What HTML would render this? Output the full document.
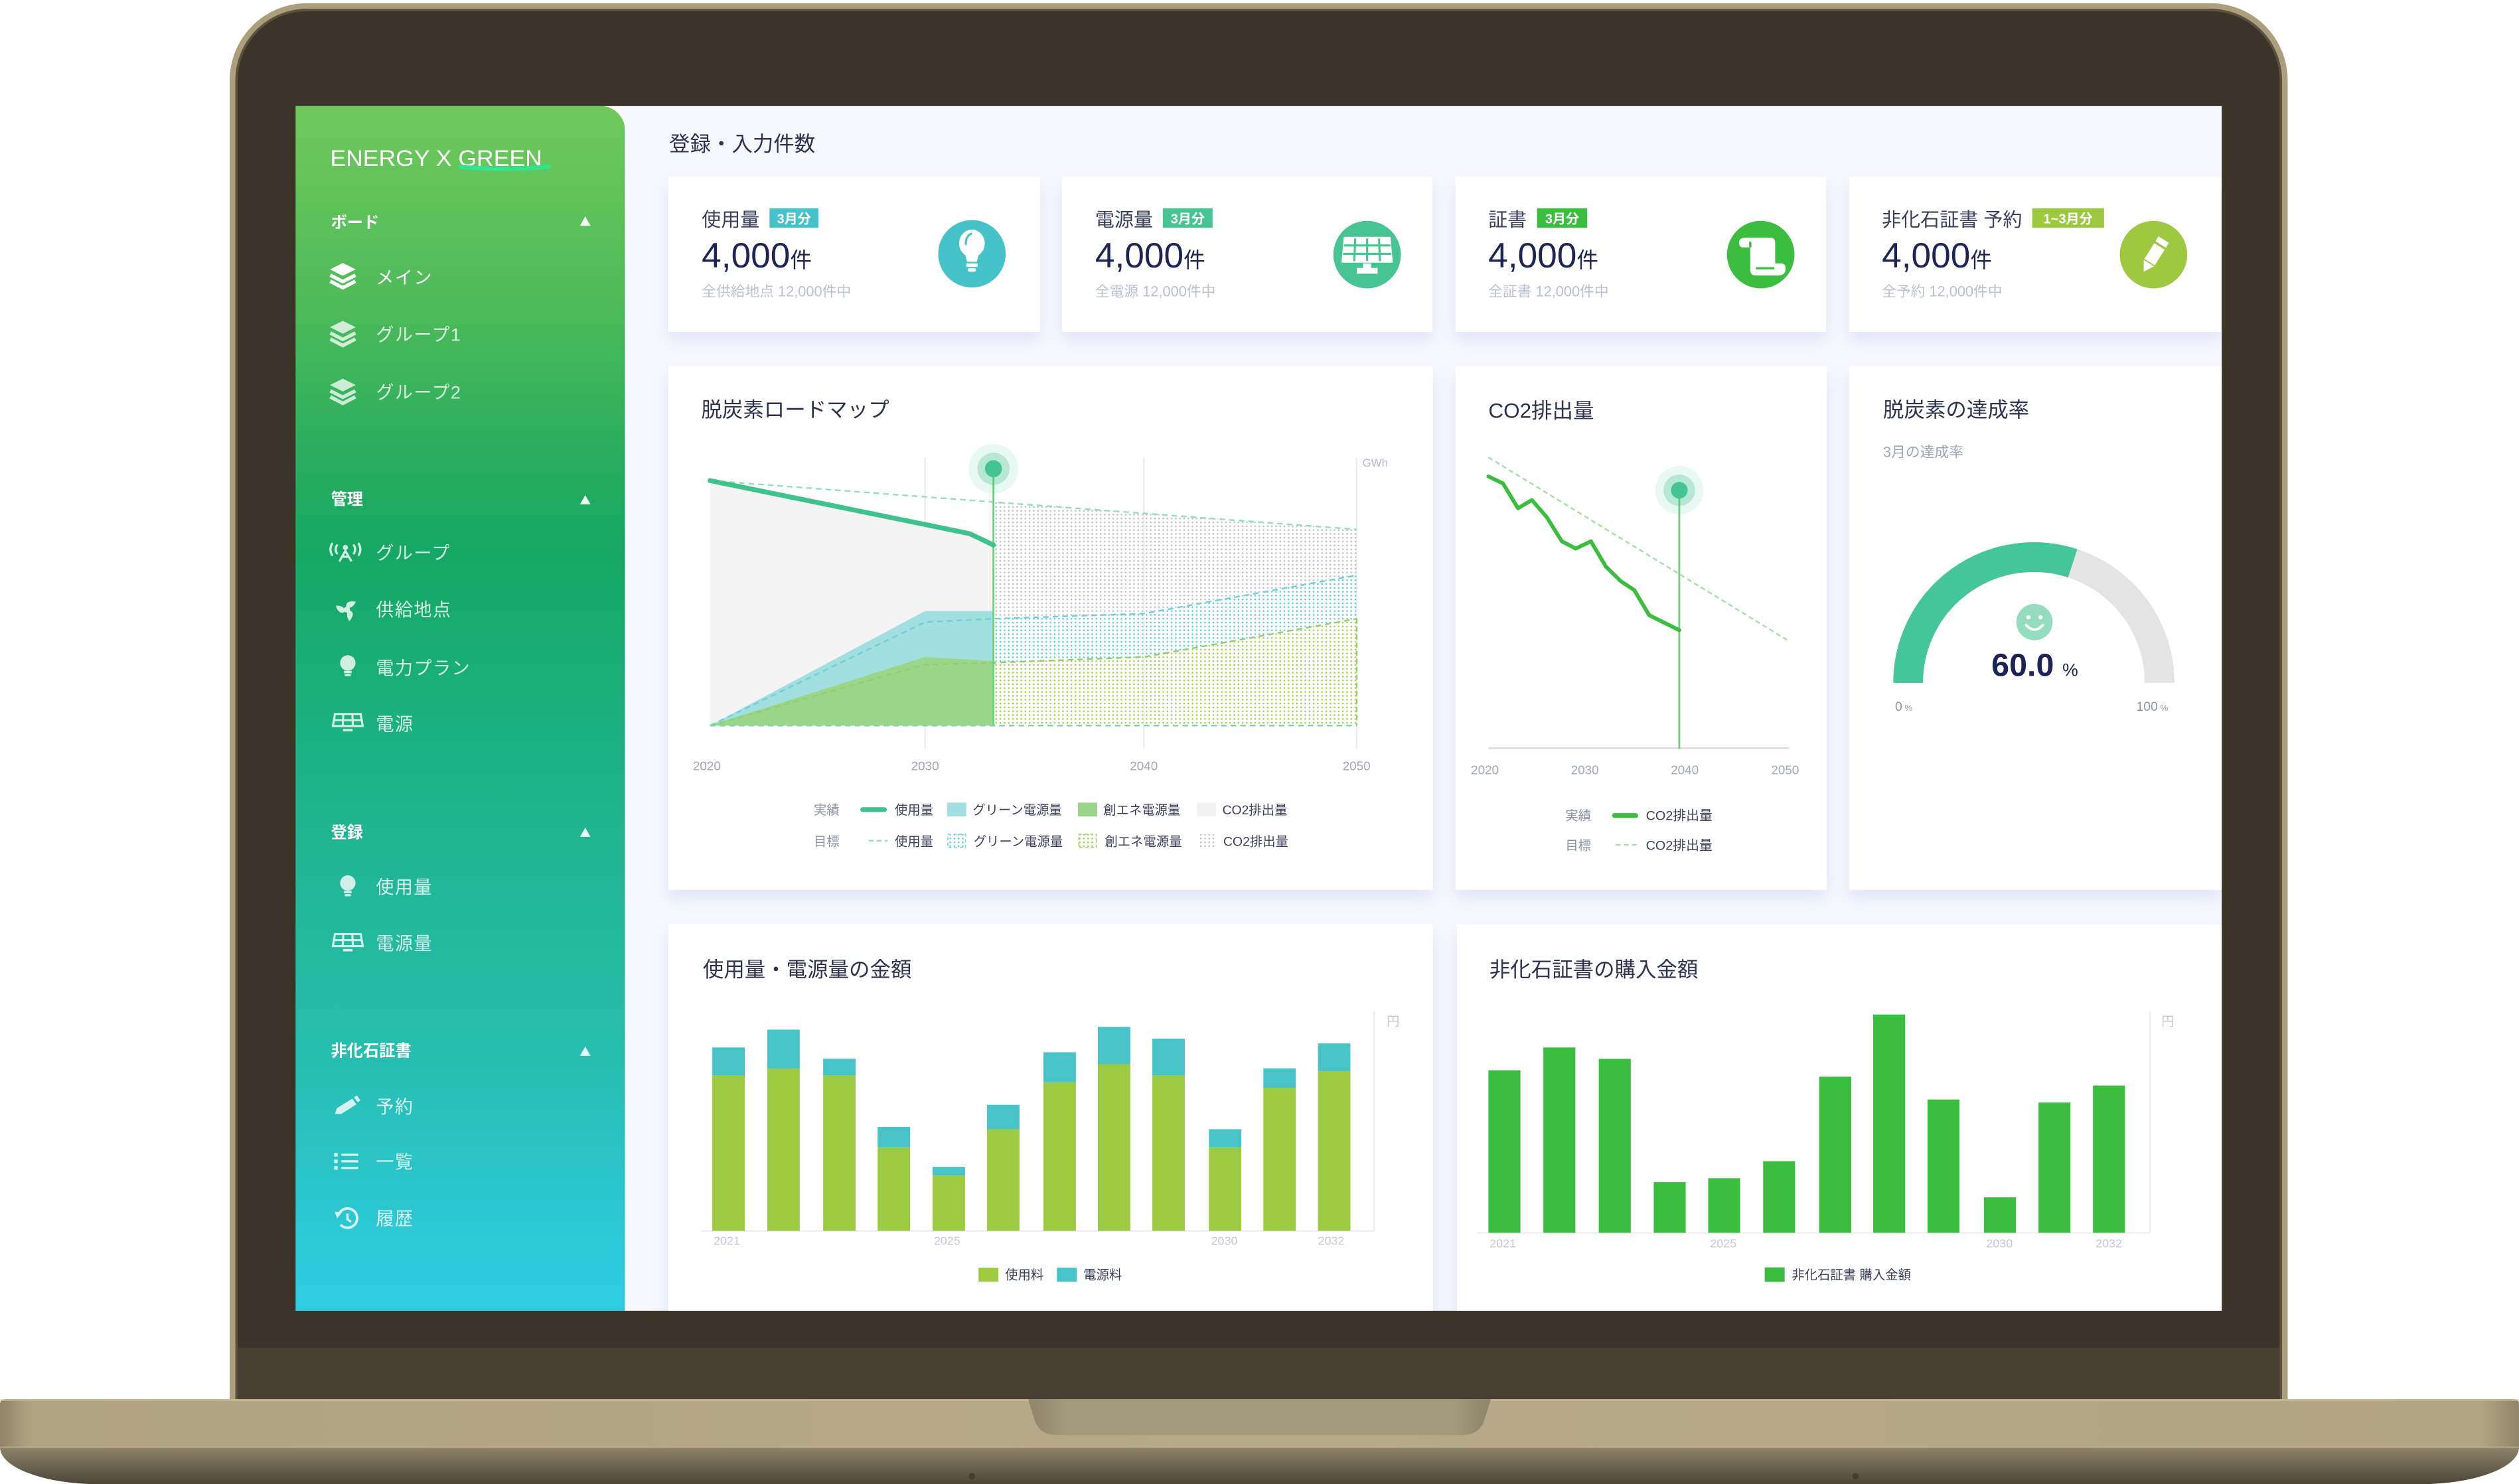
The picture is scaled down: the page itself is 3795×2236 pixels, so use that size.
<!DOCTYPE html>
<html><head><meta charset="utf-8">
<style>
html,body{margin:0;padding:0;background:#fff;}
body{width:3795px;height:2236px;overflow:hidden;}
svg{display:block;}
text{font-family:"Liberation Sans","Noto Sans CJK JP",sans-serif;}
</style></head><body>
<svg width="3795" height="2236" viewBox="0 0 1568 923.86" xmlns="http://www.w3.org/2000/svg">
<defs>
 <linearGradient id="sb" x1="0" y1="0" x2="0" y2="1">
  <stop offset="0" stop-color="#6fc95b"/>
  <stop offset="0.16" stop-color="#4fbb5a"/>
  <stop offset="0.30" stop-color="#26ac5e"/>
  <stop offset="0.37" stop-color="#15a864"/>
  <stop offset="0.56" stop-color="#1db388"/>
  <stop offset="0.76" stop-color="#26bca9"/>
  <stop offset="1" stop-color="#2ecde5"/>
 </linearGradient>
 <linearGradient id="baseTop" x1="0" y1="0" x2="1" y2="0">
  <stop offset="0" stop-color="#8f8567"/>
  <stop offset="0.012" stop-color="#afa481"/>
  <stop offset="0.5" stop-color="#b6aa88"/>
  <stop offset="0.985" stop-color="#b1a683"/>
  <stop offset="1" stop-color="#8f8567"/>
 </linearGradient>
 <linearGradient id="baseBot" x1="0" y1="0" x2="0" y2="1">
  <stop offset="0" stop-color="#8e846b"/>
  <stop offset="1" stop-color="#4c4636"/>
 </linearGradient>
 <linearGradient id="notch" x1="0" y1="0" x2="1" y2="0">
  <stop offset="0" stop-color="#8d846a"/>
  <stop offset="0.08" stop-color="#a39a7b"/>
  <stop offset="0.92" stop-color="#a39a7b"/>
  <stop offset="1" stop-color="#8d846a"/>
 </linearGradient>
 <pattern id="dg" width="2.6" height="2.4" patternUnits="userSpaceOnUse"><circle cx="1.3" cy="1.2" r="0.55" fill="#bfc0c6"/></pattern>
 <pattern id="dt" width="2.6" height="2.4" patternUnits="userSpaceOnUse"><circle cx="1.3" cy="1.2" r="0.55" fill="#5ccad7"/></pattern>
 <pattern id="dl" width="2.6" height="2.4" patternUnits="userSpaceOnUse"><circle cx="1.3" cy="1.2" r="0.55" fill="#a4cf48"/></pattern>
 <filter id="sh" x="-10%" y="-10%" width="120%" height="135%"><feDropShadow dx="0" dy="5" stdDeviation="5" flood-color="#d6dcf5" flood-opacity="0.75"/></filter>
 <clipPath id="scr"><rect x="184" y="66" width="1199" height="750"/></clipPath>

 <g id="il"><polygon points="-8,-3.8 0,-7.8 8,-3.8 0,0.2" fill="#fff"/><polyline points="-7.8,-0.2 0,3.8 7.8,-0.2" fill="none" stroke="#fff" stroke-width="2.2"/><polyline points="-7.8,3.6 0,7.6 7.8,3.6" fill="none" stroke="#fff" stroke-width="2.2"/></g>
 <g id="ig" fill="none" stroke="#fff" stroke-width="1.4" stroke-linecap="round"><path d="M-5.3,-4.5 Q-6.8,-2 -5.3,0.5"/><path d="M-8.3,-5.5 Q-10.3,-2 -8.3,1.5"/><path d="M5.3,-4.5 Q6.8,-2 5.3,0.5"/><path d="M8.3,-5.5 Q10.3,-2 8.3,1.5"/><path d="M-3.5,5 L0,-1 L3.5,5 M-2,2.6 H2"/><circle cx="0" cy="-3.2" r="1.6" fill="#fff" stroke="none"/></g>
 <g id="if" fill="#fff"><circle r="1.9"/><path d="M0,-1 C-1.5,-3.5 0.5,-6 5.5,-4.8 C4.5,-2.5 2.5,-0.8 0,-1Z"/><path d="M0,-1 C-1.5,-3.5 0.5,-6 5.5,-4.8 C4.5,-2.5 2.5,-0.8 0,-1Z" transform="rotate(120)"/><path d="M0,-1 C-1.5,-3.5 0.5,-6 5.5,-4.8 C4.5,-2.5 2.5,-0.8 0,-1Z" transform="rotate(240)"/></g>
 <g id="ib" fill="#fff"><circle cx="0" cy="-1.8" r="4.8"/><rect x="-2.4" y="3.1" width="4.8" height="1.5"/><rect x="-1.9" y="5.1" width="3.8" height="1.4" rx="0.6"/></g>
 <g id="is"><path d="M-8,-5 H8 L9.3,2.5 H-9.3 Z M-8.6,-1.2 H8.6 M-2.8,-5 L-3.2,2.5 M2.8,-5 L3.2,2.5" fill="none" stroke="#fff" stroke-width="1.3"/><rect x="-3" y="4.3" width="6" height="1.5" fill="#fff"/></g>
 <g id="ip" fill="#fff"><path d="M-7.5,5 L-6.3,1.4 L3.3,-4.6 L5.8,-1 L-3.6,5 Z"/><path d="M4.3,-5.4 L6.2,-6.5 L8.3,-3.5 L6.7,-2.2 Z"/></g>
 <g id="it"><rect x="-7.5" y="-5.2" width="2.2" height="2.2" fill="#fff"/><rect x="-7.5" y="-1.1" width="2.2" height="2.2" fill="#fff"/><rect x="-7.5" y="3" width="2.2" height="2.2" fill="#fff"/><path d="M-3,-4.1 H7.5 M-3,0 H7.5 M-3,4.1 H7.5" stroke="#fff" stroke-width="1.4"/></g>
 <g id="ih"><path d="M-5.2,-2.5 A6,6 0 1 1 -4,4" fill="none" stroke="#fff" stroke-width="1.6"/><polygon points="-7.6,-4.2 -3.2,-3.6 -6.2,0" fill="#fff"/><path d="M0.3,-3 V0.6 L2.6,2.2" fill="none" stroke="#fff" stroke-width="1.4"/></g>
</defs>

<!-- Laptop lid -->
<path d="M143,872 V50 A48,48 0 0 1 191,2 H1376 A48,48 0 0 1 1424,50 V872 Z" fill="#ab9f7c"/>
<path d="M146.5,872 V50 A44.5,44.5 0 0 1 191,5.5 H1376 A44.5,44.5 0 0 1 1420.5,50 V872 Z" fill="#5b5141"/>
<path d="M148,872 V50 A43,43 0 0 1 191,7 H1376 A43,43 0 0 1 1419,50 V872 Z" fill="#3c3428"/>
<rect x="148" y="839" width="1271" height="33" fill="#473f32"/>

<!-- Laptop base -->
<path d="M0,874 Q0,871 4,871 H1564 Q1568,871 1568,874 V901 H0 Z" fill="url(#baseTop)"/>
<rect x="0" y="871" width="1568" height="1.2" fill="#cfc4a2" opacity="0.6"/>
<path d="M0,901 H1568 A62,23 0 0 1 1506,924 H62 A62,23 0 0 1 0,901 Z" fill="url(#baseBot)"/>
<rect x="0" y="900.5" width="1568" height="1" fill="#c3b892" opacity="0.5"/>
<path d="M640,871 H928 L924,884 Q921,893.4 910,893.4 H658 Q647,893.4 644,884 Z" fill="url(#notch)"/>
<circle cx="605" cy="919" r="2" fill="#36312a" opacity="0.6"/>
<circle cx="1155" cy="919" r="2" fill="#36312a" opacity="0.6"/>

<!-- Screen -->
<g clip-path="url(#scr)">
<rect x="184" y="66" width="1199" height="750" fill="#f7f8fd"/>

<!-- Sidebar -->
<path d="M184,66 H374 A15,15 0 0 1 389,81 V816 H184 Z" fill="url(#sb)"/>
<text x="205.5" y="103.3" font-size="14" fill="#fff" textLength="132" lengthAdjust="spacingAndGlyphs">ENERGY X GREEN</text>
<path d="M286.5,103.8 Q314,106.5 342,103.6" fill="none" stroke="#2fe68f" stroke-width="2.6" stroke-linecap="round"/>

<g font-size="10" font-weight="bold" fill="#fff">
<text x="206" y="142">ボード</text>
<text x="206" y="314.2">管理</text>
<text x="206" y="521.7">登録</text>
<text x="206" y="657.5">非化石証書</text>
</g>
<g fill="#fff" opacity="0.9">
<polygon points="361,140.6 367.6,140.6 364.3,134.6"/>
<polygon points="361,314 367.6,314 364.3,308.2"/>
<polygon points="361,521 367.6,521 364.3,515.3"/>
<polygon points="361,657.3 367.6,657.3 364.3,651.6"/>
</g>

<g font-size="11.2" letter-spacing="0.6">
<text x="234" y="176.7" fill="#fff">メイン</text>
<g fill="#fff" fill-opacity="0.82">
<text x="234" y="212.2">グループ1</text>
<text x="234" y="248.2">グループ2</text>
<text x="234" y="348.2">グループ</text>
<text x="234" y="383.4">供給地点</text>
<text x="234" y="419.8">電力プラン</text>
<text x="234" y="454.7">電源</text>
<text x="234" y="556.2">使用量</text>
<text x="234" y="591.2">電源量</text>
<text x="234" y="693">予約</text>
<text x="234" y="727.2">一覧</text>
<text x="234" y="762.6">履歴</text>
</g>
</g>
<use href="#il" x="213.4" y="171.5"/>
<use href="#il" x="213.4" y="207.5" opacity="0.75"/>
<use href="#il" x="213.4" y="243.5" opacity="0.75"/>
<use href="#ig" x="215" y="344" opacity="0.8"/>
<use href="#if" x="216" y="379.5" opacity="0.8"/>
<use href="#ib" x="216.5" y="414.5" opacity="0.8"/>
<use href="#is" x="216.5" y="449.5" opacity="0.8"/>
<use href="#ib" x="216.5" y="551.5" opacity="0.8"/>
<use href="#is" x="216.5" y="586.5" opacity="0.8"/>
<use href="#ip" x="216" y="688.5" opacity="0.8"/>
<use href="#it" x="215.5" y="723" opacity="0.8"/>
<use href="#ih" x="216" y="758.5" opacity="0.8"/>

<!-- Main title -->
<text x="416.5" y="94" font-size="13" fill="#2d3250">登録・入力件数</text>

<!-- KPI cards -->
<g filter="url(#sh)" fill="#fff">
<rect x="416" y="110" width="231.5" height="96.6"/>
<rect x="661" y="110" width="230.5" height="96.6"/>
<rect x="906" y="110" width="230.7" height="96.6"/>
<rect x="1151" y="110" width="231.5" height="96.6"/>
</g>
<g font-size="12" fill="#3a3f5e">
<text x="436.8" y="141">使用量</text>
<text x="681.7" y="141">電源量</text>
<text x="926.4" y="141">証書</text>
<text x="1171.4" y="141">非化石証書 予約</text>
</g>
<rect x="479" y="129.7" width="30.5" height="12.1" fill="#45c3c9"/>
<rect x="723.8" y="129.7" width="31" height="12.1" fill="#46c494"/>
<rect x="956.8" y="129.7" width="31.2" height="12.1" fill="#3bbd3f"/>
<rect x="1265" y="129.7" width="44.7" height="12.1" fill="#9dc940"/>
<g font-size="8.3" fill="#fff" text-anchor="middle" font-weight="bold">
<text x="494.2" y="139">3月分</text>
<text x="739.3" y="139">3月分</text>
<text x="972.4" y="139">3月分</text>
<text x="1287.3" y="139">1~3月分</text>
</g>
<g fill="#1e2456">
<text x="436.8" y="166.5" font-size="22">4,000<tspan font-size="13.5">件</tspan></text>
<text x="681.7" y="166.5" font-size="22">4,000<tspan font-size="13.5">件</tspan></text>
<text x="926.4" y="166.5" font-size="22">4,000<tspan font-size="13.5">件</tspan></text>
<text x="1171.4" y="166.5" font-size="22">4,000<tspan font-size="13.5">件</tspan></text>
</g>
<g font-size="9" fill="#bcc0ce">
<text x="436.8" y="184.5">全供給地点 12,000件中</text>
<text x="681.7" y="184.5">全電源 12,000件中</text>
<text x="926.4" y="184.5">全証書 12,000件中</text>
<text x="1171.4" y="184.5">全予約 12,000件中</text>
</g>
<circle cx="605" cy="158" r="21" fill="#45c3c9"/>
<circle cx="851" cy="158.5" r="21" fill="#46c494"/>
<circle cx="1096" cy="158.5" r="21" fill="#3bbd3f"/>
<circle cx="1340.5" cy="158.5" r="21" fill="#9dc940"/>
<!-- bulb icon -->
<g fill="#fff">
<ellipse cx="605" cy="151.5" rx="8" ry="8.6"/>
<polygon points="600.3,157 609.7,157 608,163 602,163"/>
<rect x="601.5" y="164" width="7" height="2.2"/>
<rect x="602.5" y="167" width="5" height="2.2" rx="1"/>
</g>
<path d="M601.2,152 Q601.2,147 604.5,145.5" fill="none" stroke="#45c3c9" stroke-width="1.3" stroke-linecap="round"/>
<!-- solar icon -->
<polygon points="836.5,147.4 865.5,147.4 867,163.5 835,163.5" fill="#fff"/>
<path d="M843.6,148.5 L843,162.5 M851,148.5 V162.5 M858.4,148.5 L859,162.5 M836.5,152.8 H865.5 M836,158 H866" stroke="#46c494" stroke-width="1.3"/>
<rect x="848.5" y="164" width="5" height="3" fill="#fff"/>
<rect x="844.5" y="166.8" width="13" height="3.6" fill="#fff"/>
<!-- scroll icon -->
<g fill="#fff">
<path d="M1086.5,148 H1102 Q1105,148 1105,151 V164 H1108.5 Q1111.5,164 1111.5,167 Q1111.5,171.5 1107,171.5 H1093 Q1089.5,171.5 1089.5,168 V154 H1085 Q1082.5,154 1082.5,151 Q1082.5,148 1086.5,148 Z"/>
</g>
<path d="M1089.5,154 V150.5 M1093,167 H1104.5" stroke="#3bbd3f" stroke-width="1.4" fill="none"/>
<!-- pencil icon -->
<g transform="translate(1341,158.5) rotate(32)" fill="#fff">
<rect x="-3.8" y="-6" width="7.6" height="11.5"/>
<polygon points="-3.8,6.3 3.8,6.3 0,12.5"/>
<rect x="-3.8" y="-11" width="7.6" height="3.6"/>
</g>

<!-- Row 2 cards -->
<g filter="url(#sh)" fill="#fff">
<rect x="416" y="228" width="476" height="326"/>
<rect x="906" y="228" width="231" height="326"/>
<rect x="1151" y="228" width="232" height="326"/>
</g>
<g font-size="13" fill="#2d3250">
<text x="436.5" y="259.5">脱炭素ロードマップ</text>
<text x="926.5" y="260">CO2排出量</text>
<text x="1172.2" y="259.5">脱炭素の達成率</text>
</g>

<!-- Roadmap chart -->
<g stroke="#e6e7eb" stroke-width="0.7">
<line x1="575.8" y1="284.7" x2="575.8" y2="466"/>
<line x1="712" y1="284.7" x2="712" y2="466"/>
<line x1="844.4" y1="284.7" x2="844.4" y2="466"/>
</g>
<text x="856" y="290.5" font-size="7" fill="#b5b8c6" text-anchor="middle">GWh</text>
<polygon points="442,299.2 603.5,332.2 618.4,339.3 618.4,451.7 442,451.7" fill="#f4f4f5"/>
<polygon points="442,451.7 575.8,380.4 618.4,380.4 618.4,451.7" fill="#a2dfe0"/>
<polygon points="442,451.7 575.8,409 618.4,411.5 618.4,451.7" fill="#9bd58a"/>
<polygon points="618.4,312.4 844.5,329.6 844.5,358.1 712,382 618.4,385.2" fill="url(#dg)"/>
<polygon points="618.4,385.2 712,382 844.5,358.1 844.5,385.2 712,409 618.4,412.6" fill="url(#dt)"/>
<polygon points="618.4,412.6 712,409 844.5,385.2 844.5,451.7 618.4,451.7" fill="url(#dl)"/>
<polyline points="442,299.2 844.5,329.6" fill="none" stroke="#8fe0bd" stroke-width="1" stroke-dasharray="3.5,2.5"/>
<polyline points="442,451.7 575.8,387.3 618.4,385.2 712,382 844.5,358.1" fill="none" stroke="#6fd0dd" stroke-width="1" stroke-dasharray="3.5,2.5"/>
<polyline points="442,451.7 575.8,413.7 618.4,412.6 712,409 844.5,385.2" fill="none" stroke="#8fd06d" stroke-width="1" stroke-dasharray="3.5,2.5"/>
<line x1="844.5" y1="385.2" x2="844.5" y2="451.7" stroke="#8fd06d" stroke-width="1" stroke-dasharray="3,2"/>
<line x1="442" y1="451.7" x2="844.5" y2="451.7" stroke="#7ad8a8" stroke-width="1" stroke-dasharray="3.5,2.5"/>
<line x1="618.4" y1="291.8" x2="618.4" y2="451.7" stroke="#6dd07c" stroke-width="1.2"/>
<polyline points="442,299.2 603.5,332.2 618.4,339.3" fill="none" stroke="#3fc28b" stroke-width="3" stroke-linecap="round" stroke-linejoin="round"/>
<circle cx="618.4" cy="291.8" r="15.5" fill="#45c493" opacity="0.12"/>
<circle cx="618.4" cy="291.8" r="10" fill="#45c493" opacity="0.3"/>
<circle cx="618.4" cy="291.8" r="5.3" fill="#45c493"/>
<g font-size="7.8" fill="#a3a7ba" text-anchor="middle">
<text x="440" y="479.5">2020</text>
<text x="575.8" y="479.5">2030</text>
<text x="712" y="479.5">2040</text>
<text x="844.4" y="479.5">2050</text>
</g>
<!-- Roadmap legend -->
<g font-size="8" fill="#8c91a6">
<text x="506.5" y="507">実績</text>
<text x="506.5" y="526.5">目標</text>
</g>
<line x1="537" y1="504" x2="550.5" y2="504" stroke="#3fc28b" stroke-width="3" stroke-linecap="round"/>
<rect x="589.5" y="499.7" width="12" height="8.6" fill="#a2dfe0"/>
<rect x="671" y="499.7" width="12" height="8.6" fill="#9bd58a"/>
<rect x="745" y="499.7" width="12" height="8.6" fill="#f2f2f3"/>
<line x1="540.7" y1="523.4" x2="552.5" y2="523.4" stroke="#8fe0bd" stroke-width="1" stroke-dasharray="3,2"/>
<rect x="590" y="519.3" width="11" height="8.4" fill="url(#dt)" stroke="#7fd6e0" stroke-width="0.7" stroke-dasharray="2,1.5"/>
<rect x="671.5" y="519.3" width="11" height="8.4" fill="url(#dl)" stroke="#a9dc7e" stroke-width="0.7" stroke-dasharray="2,1.5"/>
<rect x="745.5" y="519.3" width="11" height="8.4" fill="url(#dg)"/>
<g font-size="8" fill="#3b3f5c">
<text x="556.9" y="507">使用量</text>
<text x="605.4" y="507">グリーン電源量</text>
<text x="686.8" y="507">創エネ電源量</text>
<text x="760.9" y="507">CO2排出量</text>
<text x="556.9" y="526.5">使用量</text>
<text x="606" y="526.5">グリーン電源量</text>
<text x="687.7" y="526.5">創エネ電源量</text>
<text x="761.5" y="526.5">CO2排出量</text>
</g>

<!-- CO2 chart -->
<line x1="926.5" y1="465.8" x2="1113.7" y2="465.8" stroke="#dcdcdf" stroke-width="1"/>
<line x1="926.5" y1="284.7" x2="1113.7" y2="399.2" stroke="#9fe39f" stroke-width="1" stroke-dasharray="3,2"/>
<line x1="1045.3" y1="305.2" x2="1045.3" y2="466.2" stroke="#6fd07c" stroke-width="1.2"/>
<polyline points="926.5,296.6 935.5,300.9 944.9,316.4 953.6,311.3 962.9,322.1 972.2,337 980.9,341.5 990.3,337 999.6,352.7 1008.9,361.8 1017.3,367.4 1026.6,383 1045.3,392.3" fill="none" stroke="#3bbd3f" stroke-width="2.4" stroke-linejoin="round" stroke-linecap="round"/>
<circle cx="1045.3" cy="305.2" r="15" fill="#45c493" opacity="0.12"/>
<circle cx="1045.3" cy="305.2" r="9.8" fill="#45c493" opacity="0.3"/>
<circle cx="1045.3" cy="305.2" r="5.2" fill="#45c493"/>
<g font-size="7.8" fill="#a3a7ba" text-anchor="middle">
<text x="924.3" y="482">2020</text>
<text x="986.5" y="482">2030</text>
<text x="1048.7" y="482">2040</text>
<text x="1111.2" y="482">2050</text>
</g>
<g font-size="8" fill="#8c91a6">
<text x="974.4" y="510.5">実績</text>
<text x="974.4" y="529">目標</text>
</g>
<line x1="1005" y1="507.7" x2="1018.2" y2="507.7" stroke="#3bbd3f" stroke-width="3" stroke-linecap="round"/>
<line x1="1005.8" y1="526" x2="1018.9" y2="526" stroke="#a6e3a6" stroke-width="1" stroke-dasharray="3,2"/>
<g font-size="8.2" fill="#3b3f5c">
<text x="1024.5" y="510.5">CO2排出量</text>
<text x="1024.5" y="529">CO2排出量</text>
</g>

<!-- Gauge -->
<text x="1172.2" y="284.5" font-size="9" fill="#a0a4b8">3月の達成率</text>
<path d="M1187.75,425.1 A78.25,78.25 0 0 1 1344.25,425.1" fill="none" stroke="#e4e4e4" stroke-width="18.5"/>
<path d="M1187.75,425.1 A78.25,78.25 0 0 1 1290.18,350.68" fill="none" stroke="#45c59a" stroke-width="18.5"/>
<circle cx="1266.4" cy="387.3" r="11.3" fill="#93dcc0"/>
<circle cx="1262.6" cy="384.3" r="1.3" fill="#fff"/>
<circle cx="1270.2" cy="384.3" r="1.3" fill="#fff"/>
<path d="M1261.2,389.2 Q1266.4,394.8 1271.6,389.2" fill="none" stroke="#fff" stroke-width="1.6" stroke-linecap="round"/>
<text x="1239.6" y="420.8" font-size="20" font-weight="bold" fill="#1d2357">60.0</text>
<text x="1283.8" y="420.8" font-size="11" fill="#1d2357">%</text>
<text x="1179.6" y="442.5" font-size="8" fill="#8f94a8">0<tspan font-size="5.5"> %</tspan></text>
<text x="1329.8" y="442.5" font-size="8" fill="#8f94a8">100<tspan font-size="5.5"> %</tspan></text>

<!-- Row 3 cards -->
<g filter="url(#sh)" fill="#fff">
<rect x="416" y="575" width="476" height="260"/>
<rect x="907" y="575.4" width="476" height="260"/>
</g>
<g font-size="13" fill="#2d3250">
<text x="437.5" y="608">使用量・電源量の金額</text>
<text x="927.1" y="608">非化石証書の購入金額</text>
</g>
<!-- left bar chart -->
<line x1="855.4" y1="629.5" x2="855.4" y2="766.3" stroke="#ececf1" stroke-width="1"/>
<line x1="436.5" y1="766.3" x2="855.4" y2="766.3" stroke="#efeff3" stroke-width="1"/>
<text x="867.2" y="638.5" font-size="8" fill="#c5c8d5" text-anchor="middle">円</text>
<g fill="#9ccb42">
<rect x="443.4" y="669.5" width="20.2" height="96.8"/>
<rect x="477.6" y="665.2" width="20.2" height="101.1"/>
<rect x="512.4" y="669.5" width="20.2" height="96.8"/>
<rect x="546.3" y="714.1" width="20.2" height="52.2"/>
<rect x="580.5" y="731.8" width="20.2" height="34.5"/>
<rect x="614.4" y="703" width="20.2" height="63.3"/>
<rect x="649.5" y="673.8" width="20.2" height="92.5"/>
<rect x="683.4" y="662.5" width="20.2" height="103.8"/>
<rect x="717.3" y="669.5" width="20.2" height="96.8"/>
<rect x="752.5" y="714.1" width="20.2" height="52.2"/>
<rect x="786.4" y="677.2" width="20.2" height="89.1"/>
<rect x="820.4" y="667" width="20.2" height="99.3"/>
</g>
<g fill="#48c4c8">
<rect x="443.4" y="652.1" width="20.2" height="17.4"/>
<rect x="477.6" y="641" width="20.2" height="24.2"/>
<rect x="512.4" y="659.1" width="20.2" height="10.4"/>
<rect x="546.3" y="701.6" width="20.2" height="12.5"/>
<rect x="580.5" y="726.4" width="20.2" height="5.4"/>
<rect x="614.4" y="687.8" width="20.2" height="15.2"/>
<rect x="649.5" y="655.1" width="20.2" height="18.7"/>
<rect x="683.4" y="639.3" width="20.2" height="23.2"/>
<rect x="717.3" y="646.6" width="20.2" height="22.9"/>
<rect x="752.5" y="703" width="20.2" height="11.1"/>
<rect x="786.4" y="665.1" width="20.2" height="12.1"/>
<rect x="820.4" y="649.6" width="20.2" height="17.4"/>
</g>
<g font-size="7.4" fill="#c5c8d5" text-anchor="middle">
<text x="452.4" y="775">2021</text>
<text x="589.5" y="775">2025</text>
<text x="762.1" y="775">2030</text>
<text x="828.6" y="775">2032</text>
</g>
<rect x="609.1" y="789.2" width="12.4" height="8.7" fill="#9ccb42"/>
<rect x="657.9" y="789.2" width="12.4" height="8.7" fill="#48c4c8"/>
<g font-size="8" fill="#3b3f5c">
<text x="625.6" y="796.5">使用料</text>
<text x="674.4" y="796.5">電源料</text>
</g>

<!-- right bar chart -->
<line x1="1338.2" y1="629.5" x2="1338.2" y2="767.5" stroke="#ececf1" stroke-width="1"/>
<line x1="919.4" y1="767.5" x2="1338.2" y2="767.5" stroke="#efeff3" stroke-width="1"/>
<text x="1349.4" y="638.5" font-size="8" fill="#c5c8d5" text-anchor="middle">円</text>
<g fill="#3bbd3f">
<rect x="926.5" y="666.3" width="19.9" height="101.2"/>
<rect x="960.7" y="652.1" width="19.9" height="115.4"/>
<rect x="995.2" y="659.2" width="19.9" height="108.3"/>
<rect x="1029.4" y="735.9" width="19.9" height="31.6"/>
<rect x="1063.3" y="733.5" width="19.9" height="34"/>
<rect x="1097.5" y="722.9" width="19.9" height="44.6"/>
<rect x="1132.4" y="670.3" width="19.9" height="97.2"/>
<rect x="1166" y="631.6" width="19.9" height="135.9"/>
<rect x="1199.8" y="684.5" width="19.9" height="83"/>
<rect x="1235" y="745.4" width="19.9" height="22.1"/>
<rect x="1268.9" y="686.4" width="19.9" height="81.1"/>
<rect x="1302.8" y="675.8" width="19.9" height="91.7"/>
</g>
<g font-size="7.4" fill="#c5c8d5" text-anchor="middle">
<text x="935.5" y="776.5">2021</text>
<text x="1072.7" y="776.5">2025</text>
<text x="1244.6" y="776.5">2030</text>
<text x="1312.7" y="776.5">2032</text>
</g>
<rect x="1098.5" y="789" width="12.4" height="9" fill="#3bbd3f"/>
<text x="1115.3" y="796.5" font-size="8" fill="#3b3f5c">非化石証書 購入金額</text>
</g>
</svg>
</body></html>
